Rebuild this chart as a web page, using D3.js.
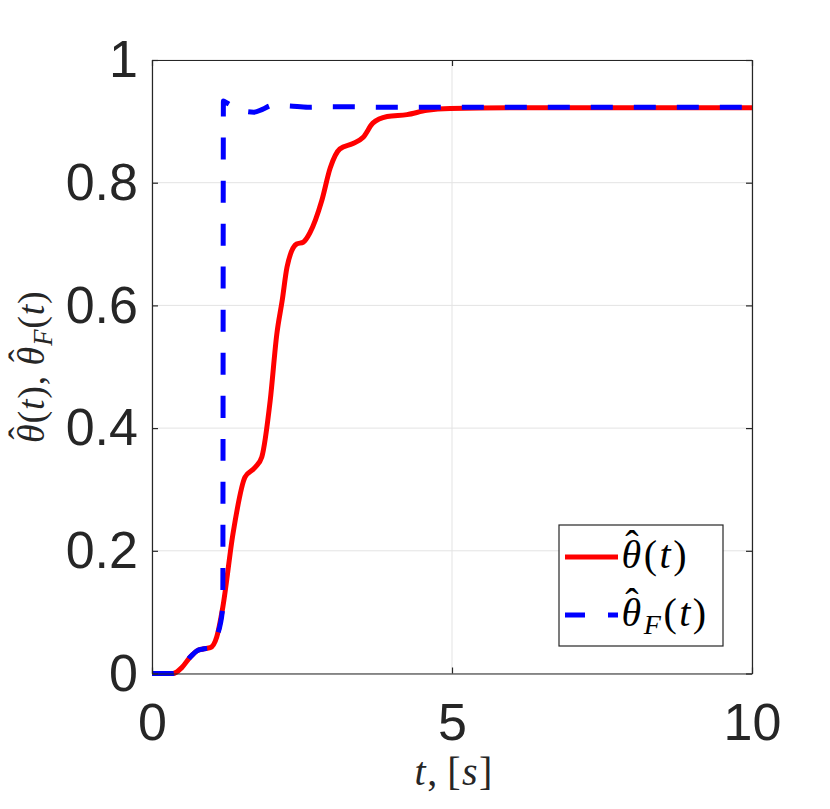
<!DOCTYPE html>
<html>
<head>
<meta charset="utf-8">
<script src="https://cdn.jsdelivr.net/npm/d3@7"></script>
<style>
  body { margin: 0; background: #fff; }
  .tick text { font-family: "Liberation Sans", Arial, sans-serif; }
  .math { font-family: "Liberation Serif", "DejaVu Serif", serif; }
</style>
</head>
<body>
<div id="chart"></div>
<script>
// ---- data ----
var xTicks = [0, 5, 10];
var yTicks = [0, 0.2, 0.4, 0.6, 0.8, 1];
var yTickLabels = ["0", "0.2", "0.4", "0.6", "0.8", "1"];

// estimate theta_hat(t) (red, solid)
var tRed = [0, 0.35, 0.5, 0.63, 0.75, 0.85, 0.97, 1.08, 1.18, 1.35, 1.55, 1.72, 1.83, 1.97, 2.08, 2.17, 2.25, 2.41, 2.52, 2.63, 2.83, 2.97, 3.13, 3.35, 3.52, 3.68, 3.92, 4.25, 4.58, 4.97, 6, 10];
var thetaHat = [0, 0, 0.01, 0.026, 0.037, 0.04, 0.042, 0.06, 0.108, 0.228, 0.32, 0.336, 0.353, 0.445, 0.553, 0.608, 0.662, 0.70, 0.703, 0.718, 0.771, 0.824, 0.855, 0.864, 0.874, 0.897, 0.908, 0.911, 0.918, 0.921, 0.922, 0.922];

// filtered estimate theta_hat_F(t) (blue, dashed)
var tBlue = [0, 0.35, 0.5, 0.63, 0.75, 0.85, 0.97, 1.08, 1.18, 1.19, 1.25, 1.5, 1.7, 1.85, 2.0, 2.3, 2.6, 3.0, 4.0, 10];
var thetaHatF = [0, 0, 0.01, 0.026, 0.037, 0.04, 0.042, 0.06, 0.108, 0.933, 0.930, 0.917, 0.915, 0.92, 0.926, 0.925, 0.923, 0.924, 0.923, 0.923];

// text pieces of the labels (hat = theta with a hat, sub = subscript)
var xTitleTokens = [{ s: "t", it: true }, { s: ", [" }, { s: "s", it: true }, { s: "]" }];
var legendTokens = [
    [{ s: "θ", it: true, hat: true }, { s: "(" }, { s: "t", it: true }, { s: ")" }],
    [{ s: "θ", it: true, hat: true }, { s: "F", it: true, sub: true }, { s: "(" }, { s: "t", it: true }, { s: ")" }]
];
var yTitleTokens = legendTokens[0].concat([{ s: ", " }], legendTokens[1]);

//=================== layout ====================
var svgWidth = 830, svgHeight = 809;
var plotLeft = 152, plotRight = 752, plotTop = 60, plotBottom = 673.5;
var axisColour = "#262626";

var svg = d3.select("#chart")
    .append("svg")
    .attr("width", svgWidth)
    .attr("height", svgHeight);

var xScale = d3.scaleLinear().domain([0, 10]).range([plotLeft, plotRight]);
var yScale = d3.scaleLinear().domain([0, 1]).range([plotBottom, plotTop]);

// builds latex-ish text out of tspans (hat drawn as a raised circumflex)
function mathText(textSel, tokens, fs, spacing) {
    var carryDx = 0, carryDy = 0;
    textSel.style("font-size", fs + "px");
    tokens.forEach(function (tok) {
        var size = tok.sub ? fs * 0.7 : fs;
        var dy = carryDy + (tok.sub ? 0.2 * fs : 0);
        textSel.append("tspan")
            .text(tok.s)
            .attr("dx", carryDx + spacing)
            .attr("dy", dy)
            .style("font-size", size + "px")
            .style("font-style", tok.it ? "italic" : "normal");
        carryDx = 0;
        carryDy = tok.sub ? -0.2 * fs : 0;
        if (tok.hat) {
            textSel.append("tspan")
                .text("ˆ")
                .attr("dx", -0.4 * fs)
                .attr("dy", -0.24 * fs)
                .style("font-size", fs + "px")
                .style("font-style", "normal");
            carryDx = 0.07 * fs;
            carryDy = 0.24 * fs;
        }
    });
}

//grid lines
var grid = svg.append("g");
grid.selectAll("line.gx")
    .data(xTicks)
    .enter().append("line")
    .attr("x1", function (d) { return xScale(d); })
    .attr("x2", function (d) { return xScale(d); })
    .attr("y1", plotTop).attr("y2", plotBottom)
    .style("stroke", "#e3e3e3").style("stroke-width", 1);
grid.selectAll("line.gy")
    .data(yTicks)
    .enter().append("line")
    .attr("y1", function (d) { return yScale(d); })
    .attr("y2", function (d) { return yScale(d); })
    .attr("x1", plotLeft).attr("x2", plotRight)
    .style("stroke", "#e3e3e3").style("stroke-width", 1);

//curves
svg.append("clipPath").attr("id", "plotclip")
    .append("rect")
    .attr("x", plotLeft).attr("y", plotTop - 10)
    .attr("width", plotRight - plotLeft).attr("height", plotBottom - plotTop + 20);

var lineGen = d3.line()
    .x(function (d) { return xScale(d[0]); })
    .y(function (d) { return yScale(d[1]); })
    .curve(d3.curveMonotoneX);

var curves = svg.append("g").attr("clip-path", "url(#plotclip)");
curves.append("path")
    .attr("d", lineGen(d3.zip(tRed, thetaHat)))
    .style("fill", "none")
    .style("stroke", "#ff0000")
    .style("stroke-width", 5);
curves.append("path")
    .attr("d", lineGen(d3.zip(tBlue, thetaHatF)))
    .style("fill", "none")
    .style("stroke", "#0000ff")
    .style("stroke-width", 5)
    .style("stroke-dasharray", "22,21");

//axes (box with inward ticks on all four sides)
var xAxis = d3.axisBottom(xScale).tickValues(xTicks).tickSizeInner(-6).tickSizeOuter(0).tickPadding(30);
var yAxis = d3.axisLeft(yScale).tickValues(yTicks).tickSizeInner(-6).tickSizeOuter(0).tickPadding(14)
    .tickFormat(function (d, i) { return yTickLabels[i]; });
var xTop = d3.axisTop(xScale).tickValues(xTicks).tickSizeInner(-6).tickSizeOuter(0).tickFormat("");
var yRight = d3.axisRight(yScale).tickValues(yTicks).tickSizeInner(-6).tickSizeOuter(0).tickFormat("");

function styleAxis(g) {
    g.selectAll("path, line").style("stroke", axisColour).style("stroke-width", 1.2);
    g.selectAll("text").style("fill", axisColour).style("font-size", "52px");
}

svg.append("g").attr("transform", "translate(0," + plotBottom + ")").call(xAxis).call(styleAxis);
svg.append("g").attr("transform", "translate(" + plotLeft + ",0)").call(yAxis).call(styleAxis);
svg.append("g").attr("transform", "translate(0," + plotTop + ")").call(xTop).call(styleAxis);
svg.append("g").attr("transform", "translate(" + plotRight + ",0)").call(yRight).call(styleAxis);

//axis titles
var xTitle = svg.append("text")
    .attr("class", "math")
    .attr("x", xScale(5))
    .attr("y", 785)
    .attr("text-anchor", "middle")
    .style("fill", axisColour);
mathText(xTitle, xTitleTokens, 40, 1.5);

var yTitle = svg.append("text")
    .attr("class", "math")
    .attr("transform", "translate(44,368) rotate(-90)")
    .attr("text-anchor", "middle")
    .style("fill", axisColour);
mathText(yTitle, yTitleTokens, 38, 0.8);

//legend
var legend = svg.append("g");
legend.append("rect")
    .attr("x", 559).attr("y", 525)
    .attr("width", 164).attr("height", 121)
    .style("fill", "#fff")
    .style("stroke", axisColour)
    .style("stroke-width", 1.2);

var legendItems = [
    { colour: "#ff0000", dash: null, y: 557, base: 568 },
    { colour: "#0000ff", dash: "20,23", y: 615, base: 626 }
];
legend.selectAll("line")
    .data(legendItems)
    .enter().append("line")
    .attr("x1", 565).attr("x2", 618)
    .attr("y1", function (d) { return d.y; })
    .attr("y2", function (d) { return d.y; })
    .style("stroke", function (d) { return d.colour; })
    .style("stroke-width", 5)
    .style("stroke-dasharray", function (d) { return d.dash; });

legendItems.forEach(function (item, i) {
    var lbl = legend.append("text")
        .attr("class", "math")
        .attr("x", 619).attr("y", item.base)
        .style("fill", "#000");
    mathText(lbl, legendTokens[i], 40, 2.5);
});
</script>
</body>
</html>
